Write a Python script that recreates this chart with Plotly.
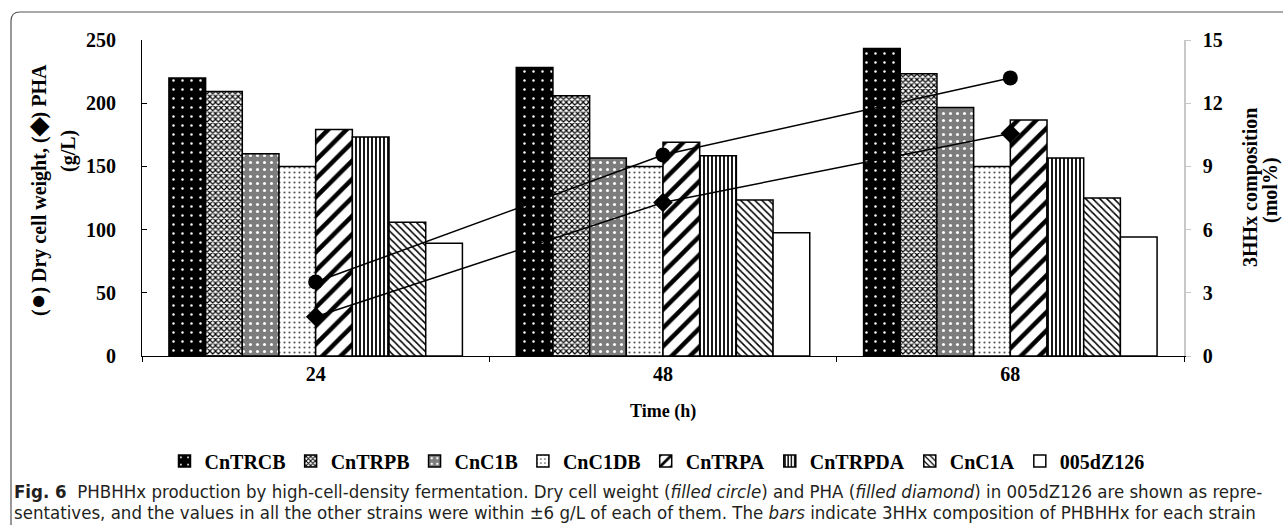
import plotly.graph_objects as go

times = ["24", "48", "68"]
strains = ["CnTRCB", "CnTRPB", "CnC1B", "CnC1DB", "CnTRPA", "CnTRPDA", "CnC1A", "005dZ126"]
hhx_CnTRCB = [13.2, 13.7, 14.6]
hhx_CnTRPB = [12.55, 12.35, 13.4]
hhx_CnC1B = [9.6, 9.4, 11.8]
hhx_CnC1DB = [9.0, 9.0, 9.0]
hhx_CnTRPA = [10.75, 10.15, 11.2]
hhx_CnTRPDA = [10.4, 9.5, 9.4]
hhx_CnC1A = [6.35, 7.4, 7.5]
hhx_005dZ126 = [5.35, 5.85, 5.65]
dcw = [58.5, 159, 220]
pha = [31, 121.5, 176]

hhx = [hhx_CnTRCB, hhx_CnTRPB, hhx_CnC1B, hhx_CnC1DB, hhx_CnTRPA, hhx_CnTRPDA, hhx_CnC1A, hhx_005dZ126]

patterns = [
    dict(shape=".", bgcolor="black", fgcolor="white", size=9, solidity=0.06, fillmode="replace"),
    dict(shape="x", bgcolor="white", fgcolor="black", size=4, solidity=0.5, fillmode="replace"),
    dict(shape=".", bgcolor="#7d7d7d", fgcolor="white", size=7, solidity=0.15, fillmode="replace"),
    dict(shape=".", bgcolor="white", fgcolor="#555555", size=5, solidity=0.15, fillmode="replace"),
    dict(shape="/", bgcolor="white", fgcolor="black", size=13, solidity=0.35, fillmode="replace"),
    dict(shape="|", bgcolor="white", fgcolor="black", size=4, solidity=0.45, fillmode="replace"),
    dict(shape="\\", bgcolor="white", fgcolor="black", size=5, solidity=0.3, fillmode="replace"),
    dict(shape="", bgcolor="white", fgcolor="white", fillmode="replace"),
]

SERIF = "Liberation Serif, Times New Roman, serif"

fig = go.Figure()
for name, vals, pat in zip(strains, hhx, patterns):
    fig.add_trace(go.Bar(
        x=times, y=vals, name=name, yaxis="y",
        marker=dict(color="white", pattern=pat, line=dict(color="black", width=1.5)),
    ))

fig.add_trace(go.Scatter(
    x=times, y=dcw, yaxis="y2", mode="lines+markers", showlegend=False,
    line=dict(color="black", width=1.5),
    marker=dict(symbol="circle", size=15, color="black"),
))
fig.add_trace(go.Scatter(
    x=times, y=pha, yaxis="y2", mode="lines+markers", showlegend=False,
    line=dict(color="black", width=1.5),
    marker=dict(symbol="diamond", size=15, color="black"),
))

L, R, T, B = 142, 1184, 40, 356
W, H = 1283, 525
pw, ph = R - L, B - T

def px(x):
    return (x - L) / pw

def py(y):
    return (B - y) / ph

r = 9
bx0, by0 = px(11), py(12)
bx1, by_bot = px(1295), py(535)
path = (f"M {bx0},{by_bot} L {bx0},{by0 - r/ph} "
        f"Q {bx0},{by0} {bx0 + r/pw},{by0} L {bx1},{by0}")

tickfont = dict(family=SERIF, size=20, color="black", weight="bold")

fig.update_layout(
    width=W, height=H,
    margin=dict(l=L, r=W - R, t=T, b=H - B),
    paper_bgcolor="white", plot_bgcolor="white",
    barmode="group", bargap=0.155, bargroupgap=0,
    font=dict(family=SERIF, color="black"),
    xaxis=dict(
        type="category", showline=True, linecolor="black", linewidth=1.2,
        ticks="outside", tickson="boundaries", ticklen=5, tickcolor="black",
        tickfont=tickfont, showgrid=False, zeroline=False,
    ),
    yaxis=dict(
        side="right", range=[0, 15], dtick=3, showline=True, linecolor="#c8c8c8",
        linewidth=1.5, ticks="outside", ticklen=5, tickcolor="#c8c8c8",
        tickfont=tickfont, showgrid=False, zeroline=False, ticklabelstandoff=8,
    ),
    yaxis2=dict(
        overlaying="y", side="left", range=[0, 250], dtick=50, showline=True,
        linecolor="black", linewidth=1.2, ticks="inside", ticklen=5, tickcolor="black",
        tickfont=tickfont, showgrid=False, zeroline=False, ticklabelstandoff=21,
    ),
    legend=dict(
        orientation="h", x=px(657), xanchor="center", y=py(461), yanchor="middle",
        font=dict(family=SERIF, size=20, color="black", weight="bold"),
        traceorder="normal", itemwidth=30, bgcolor="rgba(0,0,0,0)",
    ),
    shapes=[dict(type="path", path=path, xref="paper", yref="paper",
                 line=dict(color="#555555", width=1.2))],
)

# axis titles as annotations
titles = [
    ("<b>(<span style='font-size:26px'>\u25cf</span>) Dry cell weight, (<span style='font-size:24px'>\u25c6</span>) PHA</b>", 37, 190, -90),
    ("<b>(g/L)</b>", 68, 151, -90),
    ("<b>3HHx composition</b>", 1250, 188, -90),
    ("<b>(mol%)</b>", 1270, 190, -90),
    ("<b>Time (h)</b>", 663, 411, 0),
]
for txt, xx, yy, ang in titles:
    fig.add_annotation(text=txt, xref="paper", yref="paper", x=px(xx), y=py(yy),
                       xanchor="center", yanchor="middle", showarrow=False, textangle=ang,
                       font=dict(family=SERIF, size=20 if ang else 18, color="black"))

CAP = "Liberation Sans Narrow, DejaVu Sans Condensed, Roboto, sans-serif"
line1 = ("<b>Fig. 6</b>  PHBHHx production by high-cell-density fermentation. Dry cell weight "
         "(<i>filled circle</i>) and PHA (<i>filled diamond</i>) in 005dZ126 are shown as repre-")
line2 = ("sentatives, and the values in all the other strains were within \u00b16 g/L of each of them. "
         "The <i>bars</i> indicate 3HHx composition of PHBHHx for each strain")
for txt, yy in [(line1, 491), (line2, 512)]:
    fig.add_annotation(text=txt, xref="paper", yref="paper", x=px(12), y=py(yy),
                       xanchor="left", yanchor="middle", showarrow=False,
                       font=dict(family=CAP, size=18.5, color="#231f20"))

fig.write_html("out.html", config={"displayModeBar": False},
               post_script="document.body.style.margin='0';document.body.style.padding='0';")
